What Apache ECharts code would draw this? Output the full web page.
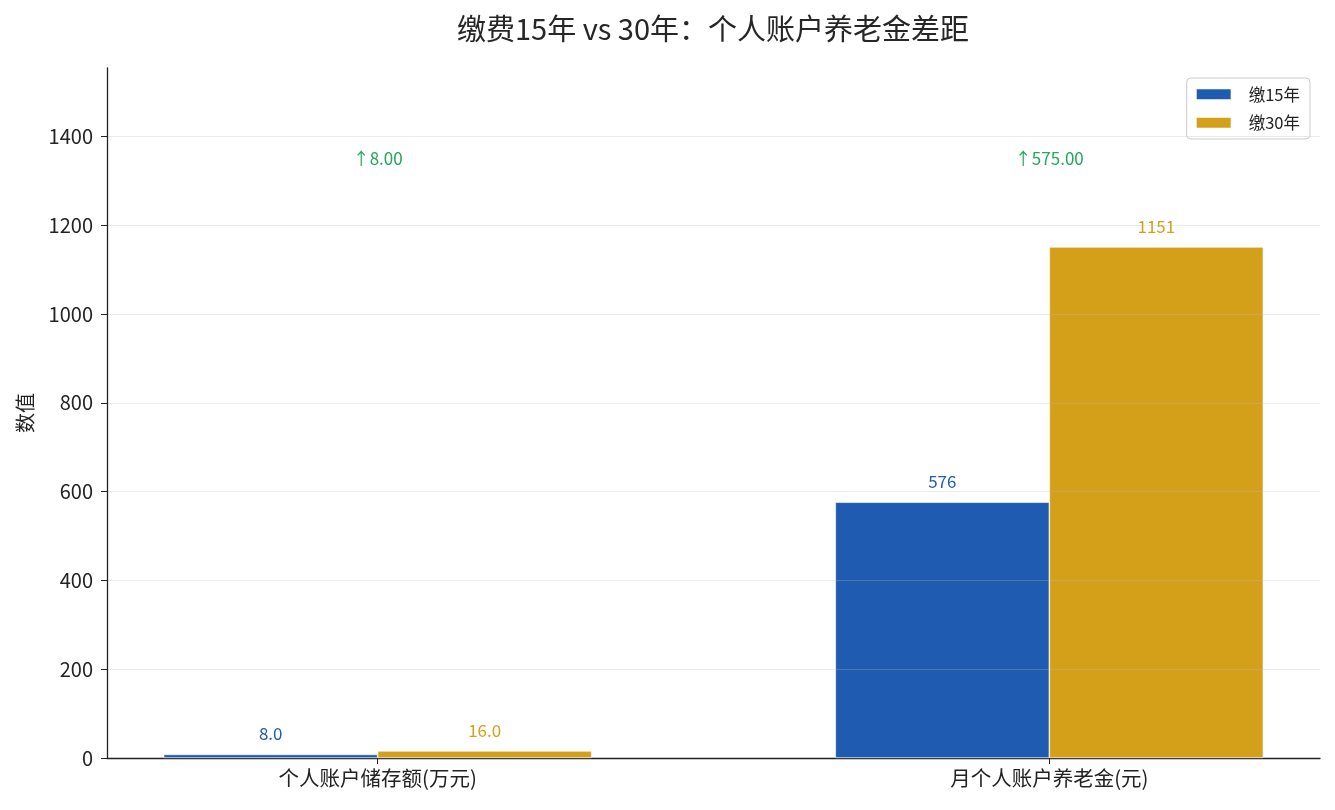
<!DOCTYPE html>
<html>
<head>
<meta charset="utf-8">
<script src="https://cdn.jsdelivr.net/npm/echarts@6/dist/echarts.min.js"></script>
<style>
  html, body { margin: 0; padding: 0; background: #fff; }
  #chart { width: 1335px; height: 810px; }
</style>
</head>
<body>
<div id="chart"></div>
<script>
// 数据
const categories = ['个人账户储存额(万元)', '月个人账户养老金(元)'];
const years15 = [8.0, 576];
const years30 = [16.0, 1151];
const diffLabels = ['↑8.00', '↑575.00'];
const diffLevel = [1350, 1350];
const yTicks = [0, 200, 400, 600, 800, 1000, 1200, 1400];

const blue = '#1f5bb0';
const gold = '#d4a01a';
const green = '#22a858';
const font = '"Noto Sans CJK SC", "Noto Sans", sans-serif';

function fmt(v, i) {
  // 第一类保留一位小数，第二类取整
  return i === 0 ? v.toFixed(1) : String(Math.round(v));
}

const chart = echarts.init(document.getElementById('chart'));
chart.setOption({
  backgroundColor: '#fff',
  animation: false,
  textStyle: { fontFamily: font },
  title: {
    text: '缴费15年 vs 30年：个人账户养老金差距',
    left: 452,
    top: 9,
    textStyle: { fontSize: 29, fontWeight: 'normal', color: '#262626', fontFamily: font }
  },
  legend: {
    right: 25,
    top: 78,
    orient: 'vertical',
    icon: 'rect',
    itemWidth: 36,
    itemHeight: 12,
    itemGap: 12,
    padding: [8, 10, 8, 8],
    borderColor: '#cccccc',
    borderWidth: 1,
    borderRadius: 4,
    textStyle: { fontSize: 16.5, color: '#222', fontFamily: font, padding: [0, 0, 0, 12] },
    data: ['缴15年', '缴30年']
  },
  grid: { left: 107, right: 15, top: 68, bottom: 52 },
  xAxis: {
    type: 'value',
    min: -0.403,
    max: 1.403,
    splitLine: { show: false },
    axisLine: { show: true, onZero: false, lineStyle: { color: '#222', width: 1.3 } },
    axisTick: { show: true, customValues: [0, 1], length: 6, lineStyle: { color: '#222' } },
    axisLabel: {
      customValues: [0, 1],
      formatter: v => categories[Math.round(v)],
      fontSize: 20.5,
      color: '#222',
      margin: 10,
      fontFamily: font
    }
  },
  yAxis: {
    type: 'value',
    min: 0,
    max: 1554,
    interval: 200,
    z: 3,
    name: '数值',
    nameLocation: 'middle',
    nameRotate: 90,
    nameGap: 72,
    nameTextStyle: { fontSize: 20, color: '#222', fontFamily: font },
    axisLine: { show: true, onZero: false, lineStyle: { color: '#222', width: 1.3 } },
    axisTick: { show: true, length: 6, lineStyle: { color: '#222' } },
    axisLabel: {
      fontSize: 20,
      color: '#222',
      margin: 14,
      showMaxLabel: false,
      fontFamily: font,
      formatter: v => String(v)
    },
    splitLine: {
      show: true,
      showMinLine: false,
      showMaxLine: false,
      lineStyle: { color: 'rgba(190,190,190,0.3)', width: 1 }
    }
  },
  series: [
    {
      name: '缴15年',
      type: 'bar',
      barWidth: 214,
      barGap: '0%',
      data: years15.map((v, i) => [i, v]),
      itemStyle: { color: blue, borderColor: '#fff', borderWidth: 0.6 },
      label: {
        show: true,
        position: 'top',
        distance: 12,
        color: blue,
        fontSize: 17,
        fontFamily: font,
        formatter: p => fmt(p.value[1], p.dataIndex)
      }
    },
    {
      name: '缴30年',
      type: 'bar',
      barWidth: 214,
      barGap: '0%',
      data: years30.map((v, i) => [i, v]),
      itemStyle: { color: gold, borderColor: '#fff', borderWidth: 0.6 },
      label: {
        show: true,
        position: 'top',
        distance: 12,
        color: gold,
        fontSize: 17,
        fontFamily: font,
        formatter: p => fmt(p.value[1], p.dataIndex)
      }
    },
    {
      name: '差距',
      type: 'scatter',
      symbolSize: 1,
      itemStyle: { color: 'rgba(0,0,0,0)', opacity: 1 },
      data: diffLevel.map((v, i) => [i, v]),
      label: {
        show: true,
        position: 'inside',
        color: green,
        fontSize: 17,
        fontFamily: font,
        formatter: p => diffLabels[p.dataIndex]
      },
      z: 5
    }
  ]
});
</script>
</body>
</html>
